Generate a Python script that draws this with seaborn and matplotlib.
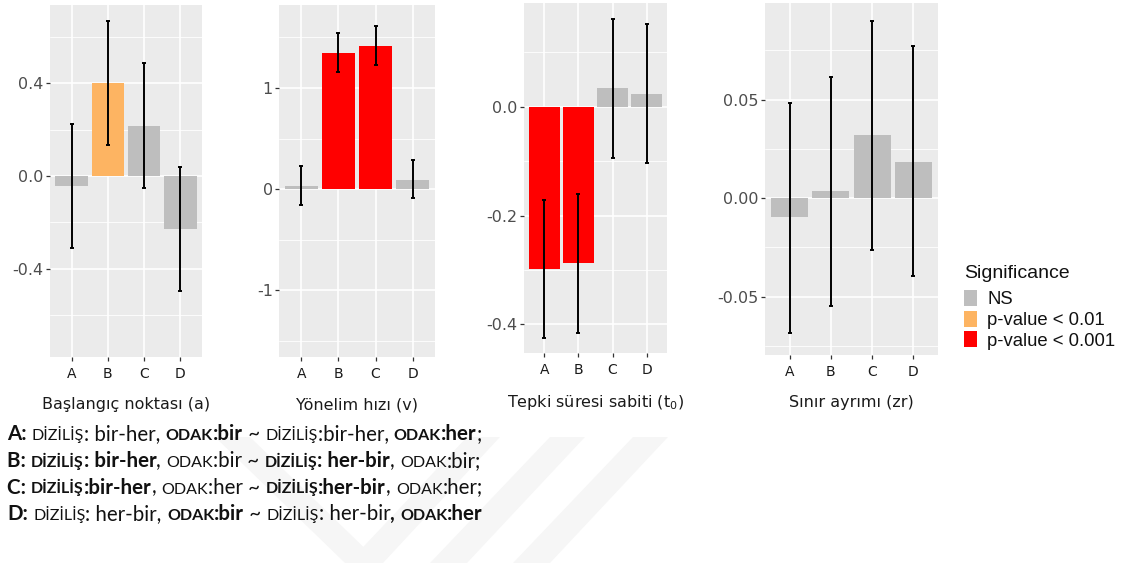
import numpy as np
import pandas as pd
import matplotlib
matplotlib.use("Agg")
import matplotlib.pyplot as plt
from matplotlib.patches import Patch, Polygon
from matplotlib.font_manager import FontProperties
import seaborn as sns

W, H = 1126, 563

# ---------------- data ----------------
categories = ["A", "B", "C", "D"]
sig_levels = ["NS", "p-value < 0.01", "p-value < 0.001"]
sig_colors = ["#BEBEBE", "#FDB462", "#FF0000"]

a_vals = [-0.043, 0.400, 0.216, -0.228]
a_lo = [-0.312, 0.134, -0.050, -0.496]
a_hi = [0.225, 0.668, 0.488, 0.040]
a_sig = ["NS", "p-value < 0.01", "NS", "NS"]

v_vals = [0.033, 1.350, 1.416, 0.093]
v_lo = [-0.155, 1.162, 1.227, -0.090]
v_hi = [0.230, 1.545, 1.608, 0.290]
v_sig = ["NS", "p-value < 0.001", "p-value < 0.001", "NS"]

t_vals = [-0.298, -0.288, 0.034, 0.023]
t_lo = [-0.426, -0.416, -0.094, -0.104]
t_hi = [-0.172, -0.161, 0.161, 0.152]
t_sig = ["p-value < 0.001", "p-value < 0.001", "NS", "NS"]

z_vals = [-0.0096, 0.0036, 0.0320, 0.0186]
z_lo = [-0.0682, -0.0548, -0.0262, -0.0394]
z_hi = [0.0484, 0.0617, 0.0902, 0.0772]
z_sig = ["NS", "NS", "NS", "NS"]

panel_titles = ["Başlangıç noktası (a)", "Yönelim hızı (v)",
                "Tepki süresi sabiti (t$_{0}$)", "Sınır ayrımı (zr)"]
major_ticks = [[-0.4, 0.0, 0.4], [-1, 0, 1], [-0.4, -0.2, 0.0], [-0.05, 0.0, 0.05]]
major_labels = [["-0.4", "0.0", "0.4"], ["-1", "0", "1"], ["-0.4", "-0.2", "0.0"],
                ["-0.05", "0.00", "0.05"]]
minor_ticks = [[-0.6, -0.2, 0.2, 0.6], [-1.5, -0.5, 0.5, 1.5], [-0.3, -0.1, 0.1],
               [-0.075, -0.025, 0.025, 0.075]]
ylims = [(-0.78, 0.737), (-1.66, 1.82), (-0.453, 0.191), (-0.0796, 0.0991)]

legend_title = "Significance"

# bottom caption: (text, bold, small caps)
caption_lines = [
    [("A:", True, False), (" ", False, False), ("DİZİLİŞ", False, True), (": bir-her, ", False, False),
     ("ODAK", True, True), (":bir", True, False), (" ~ ", False, False), ("DİZİLİŞ", False, True),
     (":bir-her, ", False, False), ("ODAK", True, True), (":her", True, False), (";", False, False)],
    [("B: ", True, False), ("DİZİLİŞ", True, True), (": bir-her", True, False), (", ", False, False),
     ("ODAK", False, True), (":bir ~ ", False, False), ("DİZİLİŞ", True, True), (": her-bir", True, False),
     (", ", False, False), ("ODAK", False, True), (":bir;", False, False)],
    [("C: ", True, False), ("DİZİLİŞ", True, True), (":bir-her", True, False), (", ", False, False),
     ("ODAK", False, True), (":her ~ ", False, False), ("DİZİLİŞ", True, True), (":her-bir", True, False),
     (", ", False, False), ("ODAK", False, True), (":her;", False, False)],
    [("D:", True, False), (" ", False, False), ("DİZİLİŞ", False, True), (": her-bir, ", False, False),
     ("ODAK", True, True), (":bir", True, False), (" ~ ", False, False), ("DİZİLİŞ", False, True),
     (": her-bir", False, False), (", ", True, False), ("ODAK", True, True), (":her", True, False)],
]

# ---------------- style ----------------
sns.set_theme(style="darkgrid")
plt.rcParams["font.family"] = ["DejaVu Sans"]
plt.rcParams["axes.unicode_minus"] = False

fig = plt.figure(figsize=(W / 100, H / 100), dpi=100)
fig.patch.set_facecolor("white")

# faint watermark stripes behind caption
wm = [
    [(215, 437), (250, 437), (380, 563), (345, 563)],
    [(467, 437), (500, 437), (383, 563), (348, 563)],
    [(550, 437), (585, 437), (467, 563), (430, 563)],
    [(633, 437), (668, 437), (550, 563), (513, 563)],
]
for poly in wm:
    pts = [(x / W, 1 - y / H) for x, y in poly]
    fig.patches.append(Polygon(pts, closed=True, transform=fig.transFigure,
                               facecolor="#F6F6F6", edgecolor="none", zorder=0))

rects_px = [(50, 5, 202, 357), (279, 5, 435, 357), (524, 3, 667, 353), (765, 3, 938, 355)]
data_sets = [(a_vals, a_lo, a_hi, a_sig), (v_vals, v_lo, v_hi, v_sig),
             (t_vals, t_lo, t_hi, t_sig), (z_vals, z_lo, z_hi, z_sig)]
palette = dict(zip(sig_levels, sig_colors))

for i, ((x0, y0, x1, y1), (vals, lo, hi, sig)) in enumerate(zip(rects_px, data_sets)):
    ax = fig.add_axes([x0 / W, 1 - y1 / H, (x1 - x0) / W, (y1 - y0) / H])
    df = pd.DataFrame({"cat": categories, "val": vals, "lo": lo, "hi": hi, "sig": sig})
    ax.set_facecolor("#EBEBEB")
    ax.set_axisbelow(True)
    sns.barplot(data=df, x="cat", y="val", hue="sig", palette=palette, order=categories,
                hue_order=sig_levels, dodge=False, width=0.9, saturation=1,
                linewidth=0, legend=False, ax=ax)
    xs = np.arange(len(categories))
    vals_a = np.array(vals); lo_a = np.array(lo); hi_a = np.array(hi)
    ax.errorbar(xs, vals_a, yerr=[vals_a - lo_a, hi_a - vals_a], fmt="none",
                ecolor="black", elinewidth=1.4, capsize=1.6, capthick=1.4, zorder=5)
    ax.set_xlim(-0.6, 3.6)
    ax.set_ylim(*ylims[i])
    ax.set_yticks(major_ticks[i])
    ax.set_yticklabels(major_labels[i])
    ax.set_yticks(minor_ticks[i], minor=True)
    ax.grid(False)
    ax.grid(which="major", axis="both", color="white", linewidth=1.2)
    ax.grid(which="minor", axis="y", color="white", linewidth=0.6)
    for s in ax.spines.values():
        s.set_visible(False)
    ax.tick_params(axis="y", which="major", length=3, width=0.9, color="#333333",
                   labelcolor="#4D4D4D", labelsize=11.5, pad=1.5, left=True)
    ax.tick_params(axis="x", which="major", length=3, width=0.9, color="#333333",
                   labelcolor="#1A1A1A", labelsize=10, pad=4, bottom=True)
    ax.tick_params(which="minor", length=0)
    ax.set_ylabel("")
    ax.set_xlabel(panel_titles[i], fontsize=11.5, color="#1A1A1A", labelpad=12)

# legend
fig.text(964 / W, 1 - 273 / H, legend_title, family="Liberation Sans", fontsize=14,
         color="#111111", ha="left", va="center")
handles = [Patch(facecolor=c, edgecolor="none") for c in sig_colors]
leg = fig.legend(handles, sig_levels, loc="upper left",
                 bbox_to_anchor=(964 / W, 1 - 290 / H), frameon=False, borderpad=0,
                 borderaxespad=0,
                 prop={"family": "Liberation Sans", "size": 13.3},
                 handlelength=0.72, handleheight=0.95, handletextpad=0.55,
                 labelspacing=0.13)
for t in leg.get_texts():
    t.set_color("#111111")

# caption
fig.canvas.draw()
renderer = fig.canvas.get_renderer()

BASE = 14.8
SC = 11.5
def width_of(s, prop):
    w1, _, _ = renderer.get_text_width_height_descent("|" + s + "|", prop, ismath=False)
    w2, _, _ = renderer.get_text_width_height_descent("||", prop, ismath=False)
    return w1 - w2

baselines = [440, 466.7, 493.5, 520]
for line, yb in zip(caption_lines, baselines):
    x = 7.0
    for txt, bold, sc in line:
        prop = FontProperties(family="Lato", weight="bold" if bold else "normal",
                              size=SC if sc else BASE)
        fig.text(x / W, 1 - yb / H, txt, fontproperties=prop, color="#111111",
                 ha="left", va="baseline")
        x += width_of(txt, prop)

fig.savefig("out.png", dpi=100)
